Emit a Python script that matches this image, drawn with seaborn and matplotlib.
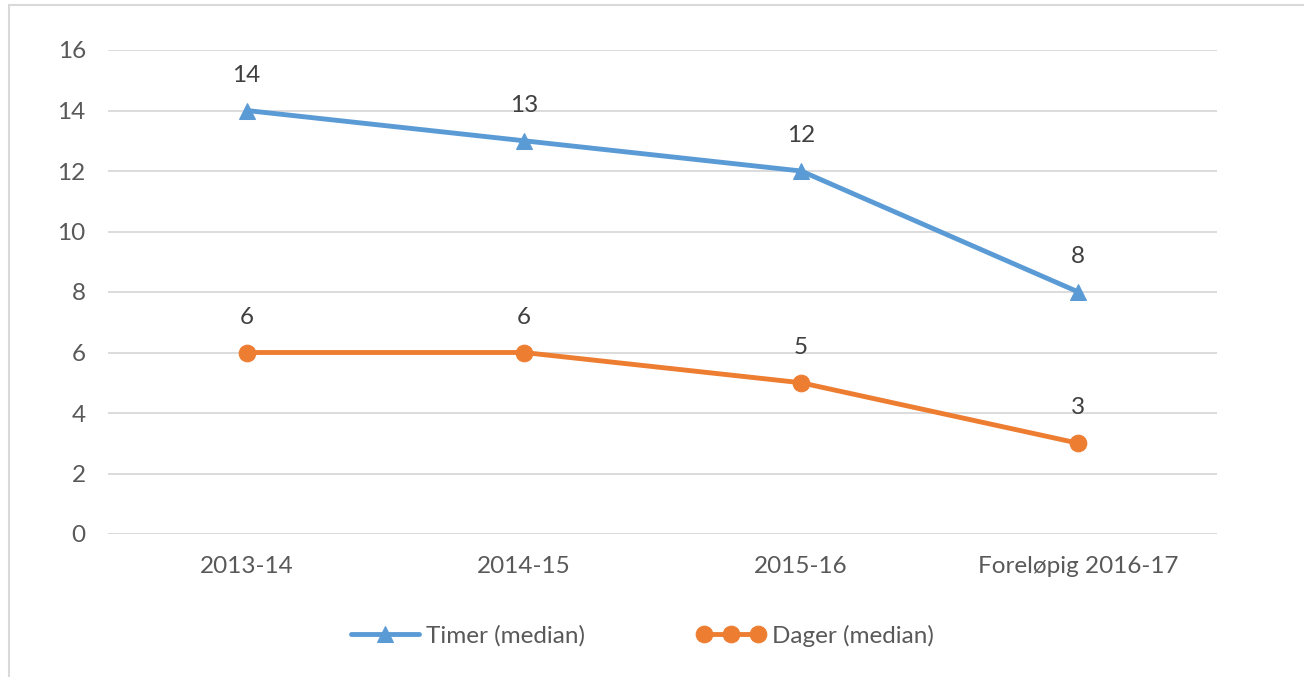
import pandas as pd
import seaborn as sns
import matplotlib.pyplot as plt
from matplotlib.patches import Rectangle
from matplotlib.legend_handler import HandlerLine2D

# Data
PERIODS = ['2013-14', '2014-15', '2015-16', 'Foreløpig 2016-17']
TIMER = [14, 13, 12, 8]
DAGER = [6, 6, 5, 3]
Y_TICKS = [0, 2, 4, 6, 8, 10, 12, 14, 16]

BLUE = '#5B9BD5'
ORANGE = '#ED7D31'
TEXT = '#595959'
GRID = '#D9D9D9'
FS = 17.5


def build_frame():
    """
    Long-form table for seaborn, one row per period and series.
    """
    rows = []
    for i, p in enumerate(PERIODS):
        rows.append({'pos': i, 'period': p, 'value': TIMER[i], 'series': 'Timer (median)'})
        rows.append({'pos': i, 'period': p, 'value': DAGER[i], 'series': 'Dager (median)'})
    return pd.DataFrame(rows)


def main():
    sns.set_theme(style='white')
    plt.rcParams['font.family'] = ['Lato', 'DejaVu Sans']

    df = build_frame()

    fig = plt.figure(figsize=(13.04, 6.77), dpi=100)
    ax = fig.add_axes([108 / 1304, 143 / 677, 1109 / 1304, 484 / 677])

    # Light chart border (top and left edges visible in the reference)
    fig.patches.append(Rectangle((8.5 / 1304, -0.05), 1.2, 1 - 4.5 / 677 + 0.05,
                                 transform=fig.transFigure, fill=False,
                                 edgecolor=GRID, linewidth=1.5, zorder=0))

    timer = df[df['series'] == 'Timer (median)']
    dager = df[df['series'] == 'Dager (median)']

    sns.lineplot(data=timer, x='pos', y='value', ax=ax, color=BLUE, linewidth=3.5,
                 marker='^', markersize=11, markeredgecolor=BLUE,
                 label='Timer (median)', zorder=3)
    sns.lineplot(data=dager, x='pos', y='value', ax=ax, color=ORANGE, linewidth=3.5,
                 marker='o', markersize=12, markeredgecolor=ORANGE,
                 label='Dager (median)', zorder=3)

    # Data labels above the points
    for series in (timer, dager):
        for _, r in series.iterrows():
            ax.annotate(f"{r['value']:g}", (r['pos'], r['value']), xytext=(0, 18),
                        textcoords='offset points', ha='center', va='bottom',
                        fontsize=FS, color='#404040')

    ax.set_xlim(-0.5, len(PERIODS) - 0.5)
    ax.set_ylim(0, 16)
    ax.set_yticks(Y_TICKS)
    ax.set_xticks(range(len(PERIODS)))
    ax.set_xticklabels(PERIODS)
    ax.tick_params(axis='both', length=0, labelsize=FS, labelcolor=TEXT)
    ax.tick_params(axis='y', pad=16)
    ax.tick_params(axis='x', pad=16)
    ax.set_xlabel('')
    ax.set_ylabel('')

    ax.yaxis.grid(True, color=GRID, linewidth=1.3)
    ax.xaxis.grid(False)
    for side in ax.spines.values():
        side.set_visible(False)
    ax.axhline(0, color=GRID, linewidth=1.3, zorder=1)

    handles, labels = ax.get_legend_handles_labels()
    leg = ax.legend(handles, labels, loc='center', bbox_to_anchor=(0.482, -0.21),
                    ncol=2, frameon=False, fontsize=FS, handlelength=2.8,
                    handletextpad=0.3, columnspacing=4.6,
                    handler_map={handles[0]: HandlerLine2D(numpoints=1),
                                 handles[1]: HandlerLine2D(numpoints=3)})
    for t in leg.get_texts():
        t.set_color(TEXT)

    fig.savefig('out.png', dpi=100, facecolor='white')


if __name__ == "__main__":
    main()
